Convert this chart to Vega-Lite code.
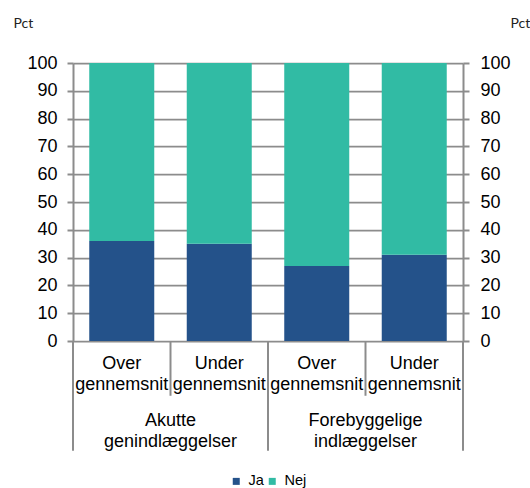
{
  "$schema": "https://vega.github.io/schema/vega-lite/v6.json",
  "autosize": {"type": "none"},
  "padding": {"left": 73, "top": 63, "right": 67, "bottom": 147},
  "width": 390,
  "height": 278,
  "background": "white",
  "config": {
    "view": {"stroke": null},
    "font": "Liberation Sans",
    "axis": {
      "labelFont": "Liberation Sans",
      "labelFontSize": 18,
      "labelColor": "#000000",
      "domainColor": "#8c8c8c",
      "domainWidth": 2,
      "tickColor": "#8c8c8c",
      "tickWidth": 2,
      "gridColor": "#8c8c8c",
      "gridWidth": 1.75
    }
  },
  "resolve": {"scale": {"x": "independent"}, "axis": {"x": "independent", "y": "independent"}},
  "layer": [
    {
      "data": {
        "values": [
          {"kat": "Akutte|Over", "svar": "Ja", "andel": 36},
          {"kat": "Akutte|Over", "svar": "Nej", "andel": 64},
          {"kat": "Akutte|Under", "svar": "Ja", "andel": 35},
          {"kat": "Akutte|Under", "svar": "Nej", "andel": 65},
          {"kat": "Forebyggelige|Over", "svar": "Ja", "andel": 27},
          {"kat": "Forebyggelige|Over", "svar": "Nej", "andel": 73},
          {"kat": "Forebyggelige|Under", "svar": "Ja", "andel": 31},
          {"kat": "Forebyggelige|Under", "svar": "Nej", "andel": 69}
        ]
      },
      "mark": {"type": "bar"},
      "encoding": {
        "x": {
          "field": "kat",
          "type": "nominal",
          "sort": null,
          "scale": {"type": "band", "paddingInner": 0.3333, "paddingOuter": 0.1667},
          "axis": {
            "orient": "bottom",
            "title": null,
            "domain": false,
            "ticks": false,
            "grid": false,
            "labelAngle": 0,
            "labelBaseline": "top",
            "labelPadding": 13,
            "labelLineHeight": 21.6,
            "labelExpr": "[split(datum.value, '|')[1], 'gennemsnit']"
          }
        },
        "y": {
          "field": "andel",
          "type": "quantitative",
          "stack": "zero",
          "scale": {"domain": [0, 100], "nice": false},
          "axis": {
            "orient": "left",
            "values": [0, 10, 20, 30, 40, 50, 60, 70, 80, 90, 100],
            "grid": true,
            "tickSize": 6,
            "labelPadding": 10,
            "title": "Pct",
            "titleAngle": 0,
            "titleFont": "Lato",
            "titleFontSize": 14,
            "titleFontWeight": "normal",
            "titleColor": "#222222",
            "titleX": -60,
            "titleY": -40,
            "titleAlign": "left",
            "titleBaseline": "middle"
          }
        },
        "order": {"field": "svar", "sort": "ascending"},
        "color": {
          "field": "svar",
          "type": "nominal",
          "scale": {"domain": ["Ja", "Nej"], "range": ["#24528a", "#31bba4"]},
          "legend": {
            "orient": "none",
            "direction": "horizontal",
            "legendX": 156,
            "legendY": 411,
            "title": null,
            "padding": 0,
            "symbolType": "square",
            "symbolSize": 49,
            "symbolStrokeWidth": 0,
            "labelFont": "Liberation Sans",
            "labelFontSize": 14.5,
            "labelColor": "#000000",
            "labelOffset": 5,
            "columnPadding": 1
          }
        }
      }
    },
    {
      "data": {
        "values": [
          {"grense": 0, "topp": 0, "bunn": -39.5},
          {"grense": 1, "topp": 0, "bunn": -19.7},
          {"grense": 2, "topp": 0, "bunn": -39.5},
          {"grense": 3, "topp": 0, "bunn": -19.7},
          {"grense": 4, "topp": 0, "bunn": -39.5}
        ]
      },
      "mark": {"type": "rule", "color": "#8c8c8c", "strokeWidth": 2},
      "encoding": {
        "x": {"field": "grense", "type": "quantitative", "scale": {"domain": [0, 4], "nice": false, "zero": false}, "axis": null},
        "y": {
          "field": "topp",
          "type": "quantitative",
          "scale": {"domain": [0, 100], "nice": false},
          "axis": {
            "orient": "right",
            "values": [0, 10, 20, 30, 40, 50, 60, 70, 80, 90, 100],
            "grid": false,
            "tickSize": 6,
            "labelPadding": 11,
            "title": "Pct",
            "titleAngle": 0,
            "titleFont": "Lato",
            "titleFontSize": 14,
            "titleFontWeight": "normal",
            "titleColor": "#222222",
            "titleX": 47,
            "titleY": -40,
            "titleAlign": "left",
            "titleBaseline": "middle"
          }
        },
        "y2": {"field": "bunn"}
      }
    },
    {
      "data": {
        "values": [
          {"gruppe": "Akutte", "tekst": "Akutte\ngenindlæggelser"},
          {"gruppe": "Forebyggelige", "tekst": "Forebyggelige\nindlæggelser"}
        ]
      },
      "mark": {"type": "text", "font": "Liberation Sans", "fontSize": 18, "color": "#000000", "lineBreak": "\n", "lineHeight": 21.6, "baseline": "middle", "align": "center"},
      "encoding": {
        "x": {"field": "gruppe", "type": "nominal", "sort": null, "scale": {"type": "band", "paddingInner": 0, "paddingOuter": 0}, "axis": null},
        "y": {"datum": -28.6, "scale": {"domain": [0, 100], "nice": false}, "axis": null},
        "text": {"field": "tekst"}
      }
    }
  ]
}
